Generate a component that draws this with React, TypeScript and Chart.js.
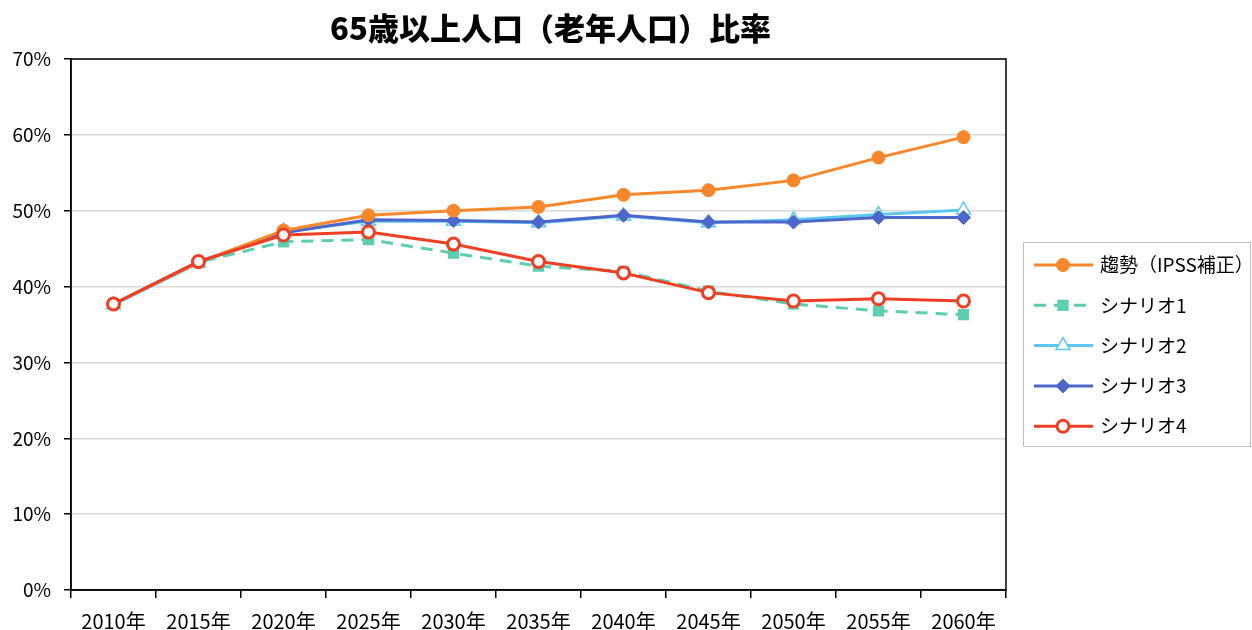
import React, { useEffect, useRef } from 'react';
import { Chart, registerables } from 'chart.js';
import { drawPoint } from 'chart.js/helpers';

Chart.register(...registerables);

const titleText = '65歳以上人口（老年人口）比率';
const years = ['2010年', '2015年', '2020年', '2025年', '2030年', '2035年', '2040年', '2045年', '2050年', '2055年', '2060年'];
const trendValues = [37.7, 43.2, 47.4, 49.4, 50.0, 50.5, 52.1, 52.7, 54.0, 57.0, 59.7];
const scenario1Values = [37.7, 43.2, 45.9, 46.2, 44.4, 42.7, 42.0, 39.4, 37.7, 36.8, 36.3];
const scenario2Values = [37.6, 43.1, 47.3, 48.6, 48.6, 48.4, 49.3, 48.4, 48.8, 49.5, 50.1];
const scenario3Values = [37.7, 43.3, 47.1, 48.8, 48.7, 48.5, 49.4, 48.5, 48.5, 49.1, 49.1];
const scenario4Values = [37.7, 43.3, 46.8, 47.2, 45.6, 43.3, 41.8, 39.2, 38.1, 38.4, 38.1];
const seriesNames = ['趨勢（IPSS補正）', 'シナリオ1', 'シナリオ2', 'シナリオ3', 'シナリオ4'];
const yTicks = [0, 10, 20, 30, 40, 50, 60, 70];

const ORANGE = '#F8872B';
const TEAL = '#5ECFAE';
const LIGHTBLUE = '#5CC8F2';
const BLUE = '#4D66C9';
const RED = '#EE3F24';

const FONT = '"Noto Sans CJK JP", "Noto Sans", sans-serif';

type LegendSpec = {
  color: string;
  dash: number[];
  style: string;
  radius: number;
  fill: string;
  borderWidth: number;
};

const legendSpecs: LegendSpec[] = [
  { color: ORANGE, dash: [], style: 'circle', radius: 6.5, fill: ORANGE, borderWidth: 1 },
  { color: TEAL, dash: [12, 8], style: 'rect', radius: 8, fill: TEAL, borderWidth: 0 },
  { color: LIGHTBLUE, dash: [], style: 'triangle', radius: 8, fill: '#ffffff', borderWidth: 1.5 },
  { color: BLUE, dash: [], style: 'rectRot', radius: 7, fill: BLUE, borderWidth: 1 },
  { color: RED, dash: [], style: 'circle', radius: 6, fill: '#ffffff', borderWidth: 3 },
];

const decorPlugin = {
  id: 'decor',
  beforeDatasetsDraw(chart: any) {
    const { ctx, chartArea: a } = chart;
    ctx.save();
    ctx.strokeStyle = '#000';
    ctx.lineWidth = 1.5;
    ctx.strokeRect(a.left, a.top, a.right - a.left, a.bottom - a.top);
    ctx.restore();
  },
  afterDraw(chart: any) {
    const { ctx, chartArea: a } = chart;
    ctx.save();
    // title
    ctx.fillStyle = '#000';
    ctx.font = `900 31px ${FONT}`;
    ctx.textAlign = 'center';
    ctx.textBaseline = 'middle';
    ctx.fillText(titleText, (a.left + a.right) / 2 + 12, 28);

    // legend box
    const bx = a.right + 17.5;
    const by = 242.5;
    ctx.strokeStyle = '#BFBFBF';
    ctx.lineWidth = 1;
    ctx.strokeRect(bx, by, 1250.5 - bx, 446.5 - by);

    seriesNames.forEach((name, i) => {
      const spec = legendSpecs[i];
      const y = 265 + i * 40.3;
      ctx.save();
      ctx.strokeStyle = spec.color;
      ctx.lineWidth = 3;
      ctx.setLineDash(spec.dash);
      ctx.beginPath();
      ctx.moveTo(a.right + 28, y);
      ctx.lineTo(a.right + 87, y);
      ctx.stroke();
      ctx.setLineDash([]);
      ctx.fillStyle = spec.fill;
      ctx.strokeStyle = spec.color;
      ctx.lineWidth = spec.borderWidth;
      drawPoint(ctx, { pointStyle: spec.style as any, radius: spec.radius, rotation: 0, borderWidth: spec.borderWidth }, a.right + 57, y);
      ctx.restore();
      ctx.fillStyle = '#000';
      ctx.font = `19px ${FONT}`;
      ctx.textAlign = 'left';
      ctx.textBaseline = 'middle';
      ctx.fillText(name, a.right + 94, y);
    });
    ctx.restore();
  },
};

export default function App() {
  const ref = useRef<HTMLCanvasElement>(null);
  useEffect(() => {
    document.body.style.margin = '0';
    const canvas = ref.current!;
    const chart = new Chart(canvas, {
      type: 'line',
      data: {
        labels: years,
        datasets: [
          {
            label: seriesNames[0],
            data: trendValues,
            borderColor: ORANGE,
            backgroundColor: ORANGE,
            borderWidth: 3,
            pointStyle: 'circle',
            pointRadius: 6.5,
            pointBackgroundColor: ORANGE,
            pointBorderColor: ORANGE,
            pointBorderWidth: 1,
            order: 1,
          },
          {
            label: seriesNames[1],
            data: scenario1Values,
            borderColor: TEAL,
            backgroundColor: TEAL,
            borderWidth: 3,
            borderDash: [12, 8],
            pointStyle: 'rect',
            pointRadius: 8,
            pointBackgroundColor: TEAL,
            pointBorderColor: TEAL,
            pointBorderWidth: 0,
            order: 4,
          },
          {
            label: seriesNames[2],
            data: scenario2Values,
            borderColor: LIGHTBLUE,
            backgroundColor: '#ffffff',
            borderWidth: 3,
            pointStyle: 'triangle',
            pointRadius: 8,
            pointBackgroundColor: '#ffffff',
            pointBorderColor: LIGHTBLUE,
            pointBorderWidth: 1.5,
            order: 3,
          },
          {
            label: seriesNames[3],
            data: scenario3Values,
            borderColor: BLUE,
            backgroundColor: BLUE,
            borderWidth: 3,
            pointStyle: 'rectRot',
            pointRadius: 7,
            pointBackgroundColor: BLUE,
            pointBorderColor: BLUE,
            pointBorderWidth: 1,
            order: 2,
          },
          {
            label: seriesNames[4],
            data: scenario4Values,
            borderColor: RED,
            backgroundColor: '#ffffff',
            borderWidth: 3,
            pointStyle: 'circle',
            pointRadius: 6,
            pointBackgroundColor: '#ffffff',
            pointBorderColor: RED,
            pointBorderWidth: 3,
            order: 0,
          },
        ],
      },
      options: {
        responsive: false,
        animation: false,
        layout: { padding: { top: 59, right: 246, left: 0, bottom: 0 } },
        plugins: {
          legend: { display: false },
          title: { display: false },
          tooltip: { enabled: false },
        },
        scales: {
          x: {
            type: 'category',
            offset: true,
            grid: {
              offset: true,
              drawOnChartArea: false,
              drawTicks: true,
              tickLength: 8,
              tickColor: '#000',
              lineWidth: 1.5,
            },
            border: { display: true, color: '#000', width: 1.5 },
            ticks: {
              color: '#000',
              font: { family: FONT, size: 20 },
              padding: 11,
              maxRotation: 0,
              autoSkip: false,
            },
            afterFit: (s: any) => {
              s.height = 40;
            },
          },
          y: {
            min: 0,
            max: 70,
            afterBuildTicks: (s: any) => {
              s.ticks = yTicks.map((v) => ({ value: v }));
            },
            grid: {
              color: '#D9D9D9',
              lineWidth: 1.5,
              drawTicks: true,
              tickLength: 7,
              tickColor: '#000',
            },
            border: { display: true, color: '#000', width: 1.5 },
            ticks: {
              color: '#000',
              font: { family: FONT, size: 19 },
              padding: 13,
              callback: (v: any) => `${v}%`,
            },
            afterFit: (s: any) => {
              s.width = 71;
            },
          },
        },
      },
      plugins: [decorPlugin],
    });
    return () => chart.destroy();
  }, []);
  return (
    <div style={{ width: 1252, height: 630 }}>
      <canvas ref={ref} width={1252} height={630} />
    </div>
  );
}
